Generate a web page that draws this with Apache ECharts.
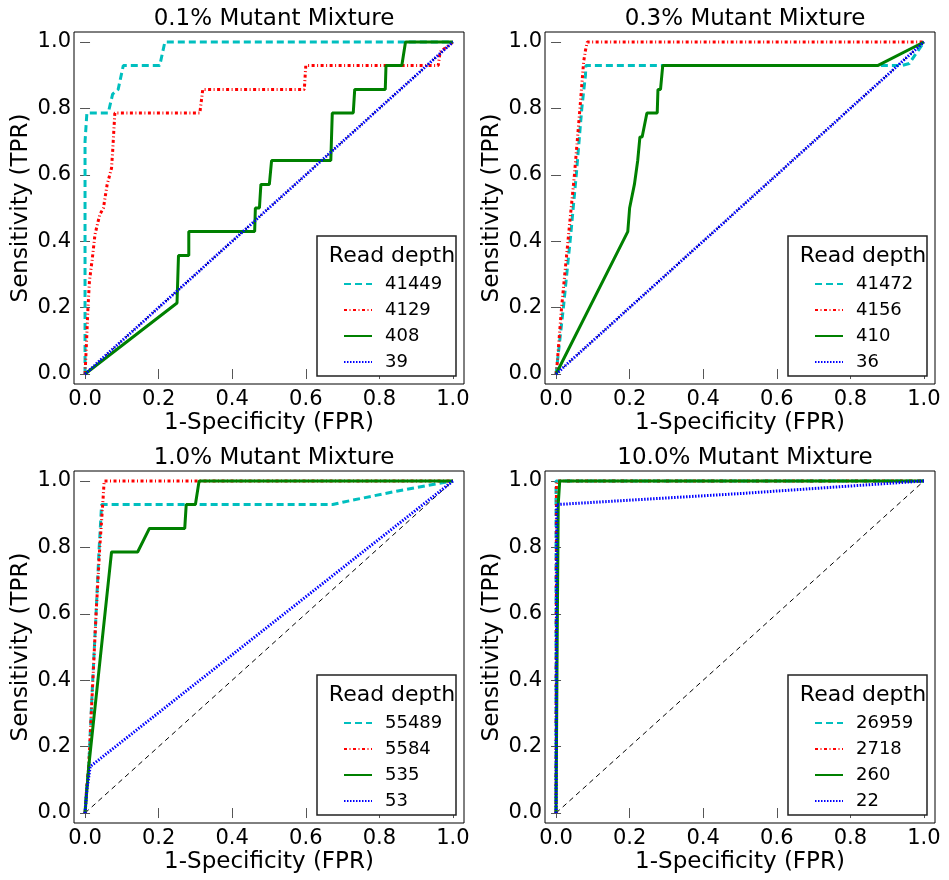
<!DOCTYPE html>
<html>
<head>
<meta charset="utf-8">
<script src="https://cdn.jsdelivr.net/npm/echarts@6/dist/echarts.min.js"></script>
<style>
  html, body { margin: 0; padding: 0; background: #fff; }
  #main { width: 949px; height: 880px; }
</style>
</head>
<body>
<div id="main"></div>
<script>
const panelTitles = ['0.1% Mutant Mixture', '0.3% Mutant Mixture', '1.0% Mutant Mixture', '10.0% Mutant Mixture']
const readDepths = [
  ['41449', '4129', '408', '39'],
  ['41472', '4156', '410', '36'],
  ['55489', '5584', '535', '53'],
  ['26959', '2718', '260', '22']
]
const tickValues = [0, 0.2, 0.4, 0.6, 0.8, 1.0]
const chanceLine = [[0, 0], [1, 1]]

// 0.1% mixture  [FPR, TPR]
const mix01Cyan = [[0, 0], [0, 0.70], [0.005, 0.786], [0.063, 0.786], [0.075, 0.843], [0.09, 0.857], [0.104, 0.929], [0.203, 0.929], [0.217, 1], [1, 1]]
const mix01Red = [[0, 0], [0.003, 0.07], [0.008, 0.2], [0.012, 0.28], [0.02, 0.35], [0.027, 0.42], [0.04, 0.48], [0.05, 0.5], [0.06, 0.57], [0.072, 0.62], [0.075, 0.67], [0.081, 0.786], [0.312, 0.786], [0.32, 0.857], [0.596, 0.857], [0.6, 0.929], [0.96, 0.929], [0.965, 0.97], [1, 1]]
const mix01Green = [[0, 0], [0.25, 0.214], [0.254, 0.357], [0.282, 0.357], [0.282, 0.429], [0.461, 0.429], [0.463, 0.5], [0.474, 0.5], [0.478, 0.571], [0.501, 0.571], [0.507, 0.643], [0.668, 0.643], [0.672, 0.786], [0.729, 0.786], [0.733, 0.857], [0.816, 0.857], [0.818, 0.929], [0.861, 0.929], [0.871, 1], [1, 1]]
const mix01Blue = [[0, 0], [0.5, 0.5], [1, 1]]

// 0.3% mixture
const mix03Cyan = [[0, 0], [0.005, 0.05], [0.02, 0.2], [0.04, 0.42], [0.055, 0.6], [0.07, 0.8], [0.08, 0.9], [0.081, 0.929], [0.94, 0.929], [0.96, 0.935], [1, 1]]
const mix03Red = [[0, 0], [0.003, 0.03], [0.015, 0.2], [0.035, 0.43], [0.05, 0.6], [0.065, 0.8], [0.075, 0.94], [0.08, 0.975], [0.085, 1], [1, 1]]
const mix03Green = [[0, 0], [0.195, 0.429], [0.2, 0.5], [0.213, 0.571], [0.222, 0.643], [0.228, 0.714], [0.234, 0.714], [0.247, 0.786], [0.275, 0.786], [0.277, 0.857], [0.284, 0.857], [0.29, 0.929], [0.874, 0.929], [1, 1]]
const mix03Blue = [[0, 0], [1, 1]]

// 1.0% mixture
const mix10Cyan = [[0, 0], [0.004, 0.07], [0.01, 0.14], [0.02, 0.38], [0.03, 0.6], [0.038, 0.79], [0.045, 0.929], [0.673, 0.929], [0.7, 0.936], [0.85, 0.97], [1, 1]]
const mix10Red = [[0, 0], [0.004, 0.07], [0.01, 0.14], [0.02, 0.37], [0.03, 0.6], [0.04, 0.8], [0.048, 0.929], [0.052, 1], [1, 1]]
const mix10Green = [[0, 0], [0.01, 0.14], [0.072, 0.786], [0.143, 0.786], [0.175, 0.857], [0.271, 0.857], [0.275, 0.929], [0.3, 0.929], [0.31, 1], [1, 1]]
const mix10Blue = [[0, 0], [0.005, 0.07], [0.014, 0.14], [1, 1]]

// 10.0% mixture
const mix100Cyan = [[0, 0], [0, 1], [1, 1]]
const mix100Red = [[0, 0], [0.001, 0.99], [0.003, 1], [1, 1]]
const mix100Green = [[0, 0], [0.003, 0.5], [0.006, 0.93], [0.01, 1], [1, 1]]
const mix100Blue = [[0, 0], [0.002, 0.929], [0.5, 0.962], [1, 1]]

const panelData = [
  [mix01Cyan, mix01Red, mix01Green, mix01Blue],
  [mix03Cyan, mix03Red, mix03Green, mix03Blue],
  [mix10Cyan, mix10Red, mix10Green, mix10Blue],
  [mix100Cyan, mix100Red, mix100Green, mix100Blue]
]

const FONT = 'DejaVu Sans'
const gridPos = [[74, 32], [545, 32], [74, 471], [545, 471]]
const GW = 390, GH = 352
const lineLooks = [
  { color: '#00BFBF', width: 3, type: [7, 4] },
  { color: '#FF0000', width: 3, type: [3, 2.5, 1, 2.5] },
  { color: '#008000', width: 3, type: 'solid' },
  { color: '#0000FF', width: 3, type: [1.5, 1.5] }
]

let grids = [], xAxes = [], yAxes = [], series = [], titles = [], legends = [], graphics = []

function tickCfg () {
  return { show: true, inside: true, length: 5, customValues: tickValues, lineStyle: { color: '#555', width: 1 } }
}

gridPos.forEach(([L, T], p) => {
  grids.push({ left: L, top: T, width: GW, height: GH, show: true, borderColor: '#000', borderWidth: 1, backgroundColor: 'transparent' })
  // bottom / left axes with labels
  xAxes.push({
    type: 'value', gridIndex: p, min: -0.03, max: 1.03, position: 'bottom',
    name: '1-Specificity (FPR)', nameLocation: 'middle', nameGap: 28,
    nameTextStyle: { fontFamily: FONT, fontSize: 23, color: '#000' },
    axisLine: { show: false }, splitLine: { show: false }, axisTick: tickCfg(),
    axisLabel: { customValues: tickValues, margin: 5, fontFamily: FONT, fontSize: 21, color: '#000', formatter: v => v.toFixed(1) }
  })
  yAxes.push({
    type: 'value', gridIndex: p, min: -0.03, max: 1.03, position: 'left',
    name: 'Sensitivity (TPR)', nameLocation: 'middle', nameGap: 41,
    nameTextStyle: { fontFamily: FONT, fontSize: 23, color: '#000' },
    axisLine: { show: false }, splitLine: { show: false }, axisTick: tickCfg(),
    axisLabel: { customValues: tickValues, margin: 3, fontFamily: FONT, fontSize: 21, color: '#000', formatter: v => v.toFixed(1) }
  })
  // mirror ticks on top / right
  xAxes.push({
    type: 'value', gridIndex: p, min: -0.03, max: 1.03, position: 'top',
    axisLine: { show: false }, splitLine: { show: false }, axisTick: tickCfg(), axisLabel: { show: false }
  })
  yAxes.push({
    type: 'value', gridIndex: p, min: -0.03, max: 1.03, position: 'right',
    axisLine: { show: false }, splitLine: { show: false }, axisTick: tickCfg(), axisLabel: { show: false }
  })
  const xi = p * 2, yi = p * 2

  series.push({
    type: 'line', name: 'chance' + p, xAxisIndex: xi, yAxisIndex: yi, data: chanceLine,
    symbol: 'none', silent: true, lineStyle: { color: '#000', width: 1, type: [5, 4] }
  })
  panelData[p].forEach((d, k) => {
    series.push({
      type: 'line', name: readDepths[p][k], xAxisIndex: xi, yAxisIndex: yi, data: d,
      symbol: 'none', lineStyle: lineLooks[k], itemStyle: { color: lineLooks[k].color }
    })
  })

  titles.push({
    text: panelTitles[p], left: L + GW / 2, top: T - 29, textAlign: 'center',
    textStyle: { fontFamily: FONT, fontSize: 23, fontWeight: 'normal', color: '#000' }
  })
  titles.push({
    text: 'Read depth', left: L + 313, top: T + 208, textAlign: 'center', z: 10,
    textStyle: { fontFamily: FONT, fontSize: 22, fontWeight: 'normal', color: '#000' }
  })
  legends.push({
    orient: 'vertical', left: L + 264, top: T + 237, z: 10,
    itemWidth: 28, itemHeight: 12, itemGap: 6, data: readDepths[p],
    itemStyle: { opacity: 0 },
    textStyle: { fontFamily: FONT, fontSize: 18, lineHeight: 20, color: '#000', padding: [0, 0, 0, 8] }
  })
  graphics.push({
    type: 'rect', z: 5,
    shape: { x: L + 243, y: T + 204, width: 139, height: 140 },
    style: { fill: '#fff', stroke: '#222', lineWidth: 1.5 }
  })
})

const myChart = echarts.init(document.getElementById('main'))
myChart.setOption({
  animation: false,
  backgroundColor: '#fff',
  title: titles,
  grid: grids,
  xAxis: xAxes,
  yAxis: yAxes,
  legend: legends,
  graphic: graphics,
  series: series
})
</script>
</body>
</html>
